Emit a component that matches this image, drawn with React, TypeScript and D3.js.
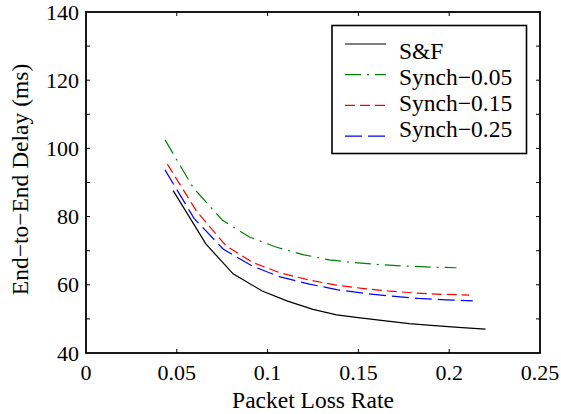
import * as d3 from "d3";
import { useEffect, useRef } from "react";

const width = 561;
const height = 414;
const marginLeft = 86;
const marginRight = 21;
const marginTop = 12;
const marginBottom = 61;

// x = measured packet loss rate, y = end-to-end delay (ms)
const sfX = [0.048, 0.066, 0.081, 0.097, 0.111, 0.125, 0.138, 0.151, 0.165, 0.178, 0.19, 0.205, 0.22];
const sfY = [87.6, 72.0, 63.2, 58.2, 55.2, 52.8, 51.2, 50.3, 49.4, 48.6, 48.1, 47.5, 47.0];

const s05X = [0.0435, 0.059, 0.075, 0.09, 0.105, 0.12, 0.134, 0.148, 0.162, 0.176, 0.19, 0.204];
const s05Y = [102.5, 88.5, 79.0, 74.0, 71.0, 68.8, 67.3, 66.5, 65.9, 65.5, 65.2, 65.0];

const s15X = [0.0448, 0.061, 0.077, 0.092, 0.107, 0.122, 0.137, 0.151, 0.166, 0.181, 0.196, 0.211];
const s15Y = [95.4, 81.5, 71.5, 66.5, 63.5, 61.5, 60.0, 59.0, 58.2, 57.6, 57.2, 57.0];

const s25X = [0.0435, 0.0595, 0.0755, 0.0915, 0.107, 0.123, 0.138, 0.153, 0.168, 0.183, 0.198, 0.213];
const s25Y = [93.7, 79.5, 70.5, 65.5, 62.3, 60.2, 58.6, 57.5, 56.7, 56.0, 55.6, 55.3];

const seriesNames = ["S&F", "Synch\u22120.05", "Synch\u22120.15", "Synch\u22120.25"];
const seriesColors = ["#000000", "#008000", "#ff0000", "#0000ff"];
const seriesDash = ["none", "16,6,2,6", "10,5", "17,6"];

const xTicks = [0, 0.05, 0.1, 0.15, 0.2, 0.25];
const xTickLabels = ["0", "0.05", "0.1", "0.15", "0.2", "0.25"];
const yTicks = [40, 50, 60, 70, 80, 90, 100, 110, 120, 130, 140];
const yTickLabels = ["40", "", "60", "", "80", "", "100", "", "120", "", "140"];

const font = '"Liberation Serif", "Times New Roman", serif';

const App = () => {
  const containerRef = useRef<HTMLDivElement>(null);

  useEffect(() => {
    const x = d3.scaleLinear().domain([0, 0.25]).range([marginLeft, width - marginRight]);
    const y = d3.scaleLinear().domain([40, 140]).range([height - marginBottom, marginTop]);

    const svg = d3.create("svg").attr("width", width).attr("height", height)
      .style("display", "block").style("background", "#fff")
      .style("font-family", font);

    const data = [
      sfX.map((v, i) => [v, sfY[i]]),
      s05X.map((v, i) => [v, s05Y[i]]),
      s15X.map((v, i) => [v, s15Y[i]]),
      s25X.map((v, i) => [v, s25Y[i]]),
    ];

    const line = d3.line<number[]>().x(d => x(d[0])).y(d => y(d[1]));

    data.forEach((pts, i) => {
      svg.append("path")
        .attr("d", line(pts))
        .attr("fill", "none")
        .attr("stroke", seriesColors[i])
        .attr("stroke-width", 1.2)
        .attr("stroke-dasharray", seriesDash[i]);
    });

    const x0 = x(0), x1 = x(0.25), y0 = y(40), y1 = y(140);
    const tick = 4;

    // ticks, inward on all four sides
    xTicks.forEach((t, i) => {
      if (i > 0 && i < xTicks.length - 1) {
        svg.append("line").attr("x1", x(t)).attr("x2", x(t)).attr("y1", y0).attr("y2", y0 - tick)
          .attr("stroke", "#000").attr("stroke-width", 1);
        svg.append("line").attr("x1", x(t)).attr("x2", x(t)).attr("y1", y1).attr("y2", y1 + tick)
          .attr("stroke", "#000").attr("stroke-width", 1);
      }
      svg.append("text").attr("x", x(t)).attr("y", 380)
        .attr("text-anchor", "middle").style("font-size", "22px")
        .text(xTickLabels[i]);
    });

    yTicks.forEach((t, i) => {
      if (i > 0 && i < yTicks.length - 1) {
        svg.append("line").attr("x1", x0).attr("x2", x0 + tick).attr("y1", y(t)).attr("y2", y(t))
          .attr("stroke", "#000").attr("stroke-width", 1);
        svg.append("line").attr("x1", x1).attr("x2", x1 - tick).attr("y1", y(t)).attr("y2", y(t))
          .attr("stroke", "#000").attr("stroke-width", 1);
      }
      if (yTickLabels[i]) {
        svg.append("text").attr("x", 79).attr("y", y(t) + 7.5)
          .attr("text-anchor", "end").style("font-size", "22px")
          .text(yTickLabels[i]);
      }
    });

    // axes box
    svg.append("rect").attr("x", x0).attr("y", y1).attr("width", x1 - x0).attr("height", y0 - y1)
      .attr("fill", "none").attr("stroke", "#000").attr("stroke-width", 1.8);

    // axis labels
    svg.append("text").attr("x", (x0 + x1) / 2).attr("y", 408)
      .attr("text-anchor", "middle").style("font-size", "23.5px")
      .text("Packet Loss Rate");

    svg.append("text").attr("transform", `translate(28, ${(y0 + y1) / 2 - 3}) rotate(-90)`)
      .attr("text-anchor", "middle").style("font-size", "23.5px")
      .text("End\u2212to\u2212End Delay (ms)");

    // legend
    const lg = svg.append("g");
    lg.append("rect").attr("x", 332).attr("y", 25.5).attr("width", 194.5).attr("height", 128)
      .attr("fill", "#fff").attr("stroke", "#000").attr("stroke-width", 1.6);
    seriesNames.forEach((name, i) => {
      const ly = 44 + i * 30.7;
      lg.append("line").attr("x1", 345).attr("x2", 386).attr("y1", ly).attr("y2", ly)
        .attr("stroke", seriesColors[i]).attr("stroke-width", 1.2)
        .attr("stroke-dasharray", seriesDash[i]);
      lg.append("text").attr("x", 399).attr("y", 58.5 + i * 26.2)
        .style("font-size", "23.5px")
        .text(name);
    });

    if (containerRef.current && containerRef.current.children.length === 0) {
      containerRef.current.append(svg.node()!);
    }
  }, []);

  return <div ref={containerRef} style={{ position: "absolute", left: 0, top: 0 }} />;
};

export default App;
